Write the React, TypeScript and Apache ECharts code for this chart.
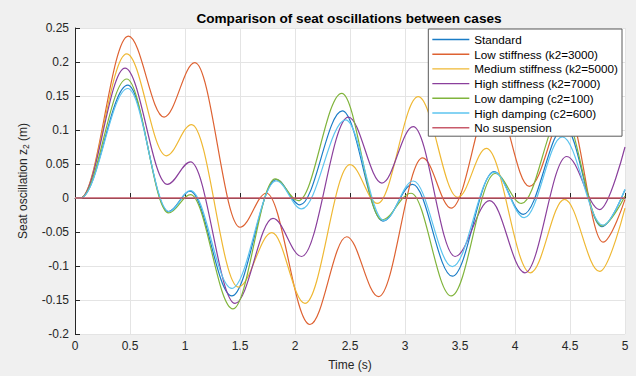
import React, { useEffect, useRef } from "react";
import * as echarts from "echarts";

const TITLE = "Comparison of seat oscillations between cases";
const NAMES = [
  "Standard",
  "Low stiffness (k2=3000)",
  "Medium stiffness (k2=5000)",
  "High stiffness (k2=7000)",
  "Low damping (c2=100)",
  "High damping (c2=600)",
  "No suspension",
];
const COLORS = ["#1a7cc6", "#de6232", "#efb833", "#8a3f9c", "#80b43c", "#5cc4ef", "#c85a6a"];

// Time (s) / displacement (m) key points (peaks and troughs)
const T_STANDARD = [0, 0.05, 0.48, 0.85, 1.045, 1.425, 1.83, 2.045, 2.43, 2.8, 3.07, 3.43, 3.81, 4.075, 4.45, 4.79, 5];
const V_STANDARD = [0, 0, 0.166, -0.02, 0.01, -0.144, 0.027, -0.01, 0.128, -0.034, 0.02, -0.115, 0.039, -0.024, 0.105, -0.042, 0.012];

const T_LOW_K = [0, 0.05, 0.485, 0.81, 1.09, 1.5, 1.74, 2.136, 2.47, 2.76, 3.16, 3.42, 3.8, 4.13, 4.47, 4.8, 5];
const V_LOW_K = [0, 0, 0.238, 0.119, 0.199, -0.043, 0.007, -0.186, -0.057, -0.145, 0.059, -0.015, 0.15, 0.017, 0.13, -0.065, -0.002];

const T_MED_K = [0, 0.05, 0.47, 0.83, 1.06, 1.485, 1.79, 2.09, 2.5, 2.75, 3.12, 3.48, 3.74, 4.14, 4.45, 4.77, 5];
const V_MED_K = [0, 0, 0.212, 0.062, 0.108, -0.131, -0.051, -0.155, 0.049, -0.008, 0.149, 0.001, 0.073, -0.11, -0.002, -0.108, -0.015];

const T_HIGH_K = [0, 0.05, 0.455, 0.84, 1.05, 1.455, 1.8, 2.06, 2.485, 2.79, 3.075, 3.455, 3.77, 4.09, 4.47, 4.77, 5];
const V_HIGH_K = [0, 0, 0.191, 0.02, 0.053, -0.155, -0.03, -0.086, 0.119, 0.022, 0.105, -0.086, -0.004, -0.11, 0.061, -0.017, 0.075];

const T_LOW_C = [0, 0.05, 0.47, 0.85, 1.05, 1.435, 1.82, 2.03, 2.425, 2.79, 3.055, 3.42, 3.82, 4.06, 4.43, 4.79, 5];
const V_LOW_C = [0, 0, 0.175, -0.022, 0.005, -0.163, 0.028, -0.004, 0.154, -0.032, 0.007, -0.144, 0.036, -0.008, 0.125, -0.041, 0.003];

const T_HIGH_C = [0, 0.05, 0.48, 0.855, 1.05, 1.425, 1.83, 2.06, 2.46, 2.81, 3.075, 3.43, 3.81, 4.085, 4.43, 4.8, 5];
const V_HIGH_C = [0, 0, 0.161, -0.02, 0.011, -0.133, 0.025, -0.016, 0.115, -0.033, 0.025, -0.101, 0.038, -0.029, 0.09, -0.04, 0.013];

const T_NO_SUSP = [0, 5];
const V_NO_SUSP = [0, 0];

const X_MIN = 0, X_MAX = 5, X_STEP = 0.5;
const Y_MIN = -0.2, Y_MAX = 0.25, Y_STEP = 0.05;

const FONT = "'Liberation Sans', Arial, Helvetica, sans-serif";
const AXIS_COLOR = "#262626";
const LINE_ICON = "path://M0,0 L37,0 L37,1.4 L0,1.4 Z";

export default function App() {
  const ref = useRef<HTMLDivElement>(null);
  useEffect(() => {
    const chart = echarts.init(ref.current!, null, { renderer: "svg" });
    const zip = (t: number[], v: number[]) => t.map((x, i) => [x, v[i]]);
    const mk = (i: number, t: number[], v: number[], width = 1.2) => ({
      name: NAMES[i],
      type: "line",
      data: zip(t, v),
      symbol: "none",
      smooth: 0.36,
      smoothMonotone: "x",
      lineStyle: { color: COLORS[i], width },
      itemStyle: { color: COLORS[i] },
      silent: true,
      emphasis: { disabled: true },
    });
    chart.setOption({
      animation: false,
      backgroundColor: "#f0f0f0",
      textStyle: { fontFamily: FONT },
      title: {
        text: TITLE,
        left: 349,
        textAlign: "center",
        top: 11,
        padding: 0,
        textStyle: { fontSize: 13.6, fontWeight: "bold", color: "#000", fontFamily: FONT },
      },
      legend: {
        orient: "vertical",
        right: 14,
        top: 29,
        padding: [4, 4, 2, 4],
        itemWidth: 37,
        itemHeight: 13,
        itemGap: 1.7,
        icon: LINE_ICON,
        backgroundColor: "#fff",
        borderColor: "#5a5a5a",
        borderWidth: 1,
        selectedMode: false,
        textStyle: { fontSize: 11.7, color: "#000", lineHeight: 13, fontFamily: FONT },
        data: NAMES,
      },
      grid: {
        left: 75,
        right: 11,
        top: 28,
        bottom: 38,
        show: true,
        backgroundColor: "#fff",
        borderWidth: 0,
      },
      xAxis: {
        type: "value",
        min: X_MIN,
        max: X_MAX,
        interval: X_STEP,
        axisLine: { show: true, lineStyle: { color: AXIS_COLOR, width: 1 } },
        axisTick: { show: true, inside: true, length: 5, lineStyle: { color: AXIS_COLOR } },
        axisLabel: { fontSize: 12, color: AXIS_COLOR, margin: 6, fontFamily: FONT, formatter: (v: number) => String(v) },
        splitLine: { show: true, lineStyle: { color: "#e4e4e4", width: 1 } },
        name: "Time (s)",
        nameLocation: "middle",
        nameGap: 25,
        nameTextStyle: { fontSize: 12, color: AXIS_COLOR, fontFamily: FONT },
      },
      yAxis: {
        type: "value",
        min: Y_MIN,
        max: Y_MAX,
        interval: Y_STEP,
        axisLine: { show: true, lineStyle: { color: AXIS_COLOR, width: 1 } },
        axisTick: { show: true, inside: true, length: 5, lineStyle: { color: AXIS_COLOR } },
        axisLabel: {
          fontSize: 12,
          color: AXIS_COLOR,
          margin: 6,
          fontFamily: FONT,
          formatter: (v: number) => String(parseFloat(v.toFixed(2))),
        },
        splitLine: { show: true, lineStyle: { color: "#e4e4e4", width: 1 } },
        name: "{a|Seat oscillation z}{b|2}{a| (m)}",
        nameLocation: "middle",
        nameGap: 44,
        nameTextStyle: {
          fontSize: 12,
          color: AXIS_COLOR,
          fontFamily: FONT,
          rich: {
            a: { fontSize: 12, color: AXIS_COLOR, fontFamily: FONT, lineHeight: 16, verticalAlign: "middle" },
            b: { fontSize: 8.5, color: AXIS_COLOR, fontFamily: FONT, lineHeight: 9, verticalAlign: "bottom" },
          },
        },
      },
      series: [
        mk(0, T_STANDARD, V_STANDARD),
        mk(1, T_LOW_K, V_LOW_K),
        mk(2, T_MED_K, V_MED_K),
        mk(3, T_HIGH_K, V_HIGH_K),
        mk(4, T_LOW_C, V_LOW_C),
        mk(5, T_HIGH_C, V_HIGH_C),
        mk(6, T_NO_SUSP, V_NO_SUSP, 1.5),
      ],
    });
    return () => chart.dispose();
  }, []);
  return (
    <div
      ref={ref}
      style={{ position: "fixed", left: 0, top: 0, width: 636, height: 376 }}
    />
  );
}
